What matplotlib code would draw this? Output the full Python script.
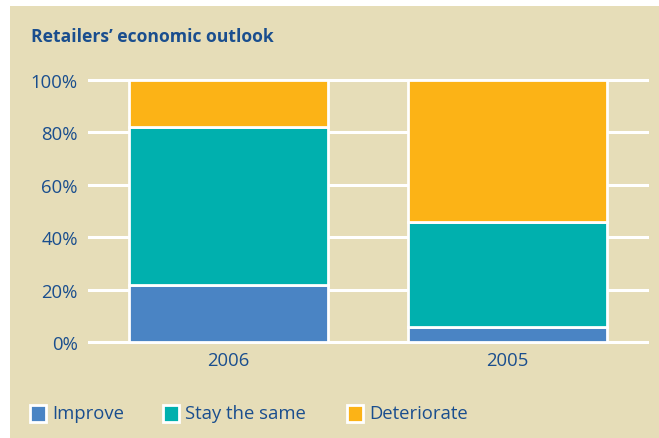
import numpy as np
import matplotlib.pyplot as plt
from matplotlib.patches import Rectangle

years = ['2006', '2005']
improve = [22, 6]
stay_same = [60, 40]
deteriorate = [18, 54]
series_names = ['Improve', 'Stay the same', 'Deteriorate']
y_ticks = [0, 20, 40, 60, 80, 100]
y_tick_labels = ['0%', '20%', '40%', '60%', '80%', '100%']

blue = '#4A84C4'
teal = '#00B0AE'
orange = '#FCB316'
beige = '#E6DDB8'
navy = '#1A4E8E'

plt.rcParams['font.family'] = ['Open Sans', 'DejaVu Sans']

W, H = 659, 439
fig = plt.figure(figsize=(W / 100, H / 100), dpi=100, facecolor='white')

# beige panel behind everything
fig.patches.append(Rectangle((10 / W, 0), 1, 1 - 7 / H, transform=fig.transFigure,
                             facecolor=beige, edgecolor='none', zorder=-10))

ax = fig.add_axes([89 / W, 1 - 343.3 / H, (647 - 89) / W, (343.3 - 80.7) / H])
ax.set_facecolor('none')

x = np.arange(len(years))
w = 0.716
bottom2 = np.array(improve)
bottom3 = bottom2 + np.array(stay_same)
ax.bar(x, improve, w, color=blue, edgecolor='white', linewidth=2, zorder=3)
ax.bar(x, stay_same, w, bottom=bottom2, color=teal, edgecolor='white', linewidth=2, zorder=3)
ax.bar(x, deteriorate, w, bottom=bottom3, color=orange, edgecolor='white', linewidth=2, zorder=3)

for t in y_ticks:
    ax.axhline(t, color='white', linewidth=2.2, zorder=1, clip_on=False)

ax.set_xlim(-0.5, 1.5)
ax.set_ylim(0, 100)
ax.set_yticks(y_ticks)
ax.set_yticklabels(y_tick_labels)
ax.set_xticks(x)
ax.set_xticklabels(years)
ax.tick_params(length=0, labelsize=13.3, labelcolor=navy)
ax.tick_params(axis='y', pad=8)
ax.tick_params(axis='x', pad=6)
for sp in ax.spines.values():
    sp.set_visible(False)

fig.text(31 / W, 1 - 42 / H, 'Retailers\u2019 economic outlook', fontsize=12.6,
         fontweight='bold', color=navy, va='baseline', ha='left')

# legend
sq_x = [30, 163, 347]
txt_x = [52, 185, 369]
colors = [blue, teal, orange]
for sx, tx, c, name in zip(sq_x, txt_x, colors, series_names):
    fig.patches.append(Rectangle((sx / W, 1 - 422.5 / H), 16 / W, 17 / H,
                                 transform=fig.transFigure, facecolor=c,
                                 edgecolor='white', linewidth=2))
    fig.text(tx / W, 1 - 414 / H, name, fontsize=13.3, color=navy,
             va='center', ha='left')

plt.savefig('out.png', dpi=100, facecolor='white')
